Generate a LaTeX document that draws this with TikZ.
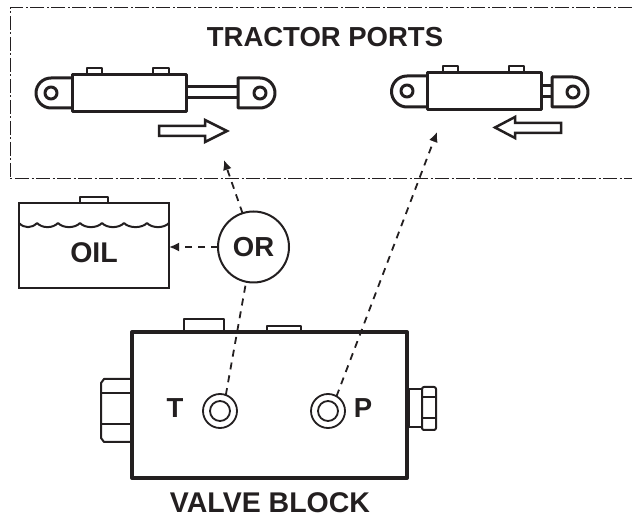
\documentclass[tikz,border=0pt]{standalone}
\usepackage{fontspec}
\setmainfont{Liberation Sans}
\usepackage{xcolor}
\usetikzlibrary{arrows.meta}
\definecolor{ink}{HTML}{231F20}
\tikzset{
tag/.style={
font=\bfseries\fontsize{27.5}{30}\selectfont,
text=ink,
inner sep=0pt
},
bigtag/.style={
tag,
font=\bfseries\fontsize{28.5}{30}\selectfont
},
part/.style={
draw=ink,
line width=3pt,
line join=round,
fill=white
},
thinpart/.style={
draw=ink,
line width=2pt,
line join=round,
fill=white
},
heavy/.style={
draw=ink,
line width=4pt,
line join=round,
fill=white,
inner sep=0pt,
outer sep=0pt
},
port/.style={
circle,
draw=ink,
line width=1.8pt,
inner sep=0pt,
outer sep=0pt,
fill=white
},
flow/.style={
draw=ink,
line width=1.8pt,
dash pattern=on 7pt off 6pt,
-{Latex[length=10pt,width=9pt]}
},
hollow/.style={
draw=ink,
line width=2.5pt,
miter limit=10,
fill=white
},
frameline/.style={
draw=ink,
line width=1pt,
dash pattern=on 14pt off 2.5pt on 2pt off 2.5pt
}
}

\begin{document}
\begin{tikzpicture}[x=1pt,y=-1pt]
\useasboundingbox (0,0) rectangle (632,518);

% tractor side
\draw[frameline] (632,8) -- (10,8) -- (10,179) -- (632,179);
\node[tag] (title) at (325,37) {TRACTOR PORTS};

% left cylinder
\draw[thinpart] (87,75) -- (87,68) -- (102,68) -- (102,75);
\draw[thinpart] (153,75) -- (153,68) -- (169,68) -- (169,75);
\draw[part] (72,78) -- (51,78) arc[start angle=270,end angle=90,radius=15] -- (72,108);
\draw[part] (186,87) rectangle (238,98);
\draw[part] (238,78) -- (260,78) arc[start angle=-90,end angle=90,radius=15] -- (238,108) -- cycle;
\draw[part] (72,75) rectangle (186,112);
\draw[part] (51,93) circle[radius=6];
\draw[part] (260,93) circle[radius=6];
\draw[hollow] (159,126) -- (205,126) -- (205,120) -- (227,131) -- (205,142) -- (205,136) -- (159,136) -- cycle;

% right cylinder
\draw[thinpart] (443,73) -- (443,66) -- (458,66) -- (458,73);
\draw[thinpart] (509,73) -- (509,66) -- (524,66) -- (524,73);
\draw[part] (427,76) -- (407,76) arc[start angle=270,end angle=90,radius=15.5] -- (427,107);
\draw[part] (541,86) rectangle (552,97);
\draw[part] (552,77) -- (573,77) arc[start angle=-90,end angle=90,radius=15] -- (552,107) -- cycle;
\draw[part] (427,73) rectangle (541,110);
\draw[part] (407,91) circle[radius=6];
\draw[part] (573,92) circle[radius=6];
\draw[hollow] (561,123) -- (515,123) -- (515,117) -- (495,127.5) -- (515,138) -- (515,133) -- (561,133) -- cycle;

% oil tank
\draw[thinpart] (80,203) -- (80,197) -- (108,197) -- (108,203);
\node[draw=ink,line width=2pt,minimum width=150pt,minimum height=85pt,inner sep=0pt,outer sep=0pt] (tank) at (94,245.5) {};
\foreach \xa/\xb in {19/37,37/58,58/80,80/102,102/124,124/147,147/169}
\draw[ink,line width=2pt] (\xa,223) .. controls (\xa+5,228.5) and (\xb-5,228.5) .. (\xb,223);
\node[bigtag] (oil) at (94,253) {OIL};

% valve block
\draw[thinpart] (184,332) -- (184,319) -- (224,319) -- (224,332);
\draw[thinpart] (267,332) -- (267,326) -- (301,326) -- (301,332);
\draw[thinpart] (132,379) -- (104,379) -- (101,383) -- (101,438) -- (104,442) -- (132,442);
\draw[thinpart] (102,393) -- (132,393);
\draw[thinpart] (102,424) -- (132,424);
\draw[thinpart] (409,389) rectangle (422,427);
\draw[thinpart,rounded corners=2pt] (422,387) rectangle (436,430);
\draw[thinpart] (422,397) -- (436,397);
\draw[thinpart] (422,418) -- (436,418);
\node[heavy,minimum width=275pt,minimum height=146pt] (block) at (269.5,405) {};
\node[port,minimum size=34pt] (tport) at (220,411) {};
\node[port,minimum size=20pt] at (tport) {};
\node[port,minimum size=34pt] (pport) at (328,411) {};
\node[port,minimum size=20pt] at (pport) {};
\node[tag] (tlabel) at (175,408) {T};
\node[tag] (plabel) at (363,408) {P};
\node[bigtag] (blockname) at (270,503) {VALVE BLOCK};

% selector
\node[port,minimum size=71pt,line width=2pt] (selector) at (253.5,247) {};
\node[tag] (orlabel) at (253.5,247) {OR};

% flow paths
\coordinate (lefttip) at (224,160);
\coordinate (righttip) at (437,132);
\draw[flow] (selector.108) -- (lefttip);
\draw[flow] (selector.west) -- (tank.east |- selector.west);
\draw[flow,-] (tport.70) -- (selector.258);
\draw[flow] (pport.60) -- (righttip);
\end{tikzpicture}
\end{document}
